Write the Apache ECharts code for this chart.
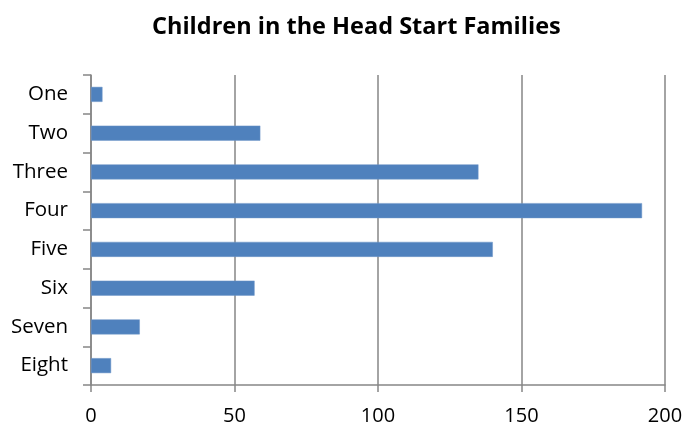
<!DOCTYPE html>
<html>
<head>
<meta charset="utf-8">
<script src="https://cdn.jsdelivr.net/npm/echarts@6/dist/echarts.min.js"></script>
<style>
  html, body { margin: 0; padding: 0; background: #fff; }
  #chart { width: 686px; height: 426px; }
</style>
</head>
<body>
<div id="chart"></div>
<script>
// categories and counts
var categories = ['One', 'Two', 'Three', 'Four', 'Five', 'Six', 'Seven', 'Eight']
var children = [4, 59, 135, 192, 140, 57, 17, 7]
var xTicks = [0, 50, 100, 150, 200]

var axisGray = '#868686'
var fontFam = '"Open Sans", "Liberation Sans", sans-serif'

var myChart = echarts.init(document.getElementById('chart'))

var option = {
  animation: false,
  title: {
    text: 'Children in the Head Start Families',
    left: 147,
    top: 10,
    textStyle: {
      fontFamily: fontFam,
      fontSize: 23.5,
      fontWeight: 'bold',
      color: '#000'
    }
  },
  grid: {
    left: 91,
    right: 21,
    top: 75,
    bottom: 40
  },
  xAxis: {
    type: 'value',
    min: xTicks[0],
    max: xTicks[xTicks.length - 1],
    interval: 50,
    axisLine: { show: true, lineStyle: { color: axisGray, width: 1.5 } },
    axisTick: { show: true, length: 7, lineStyle: { color: axisGray, width: 1.5 } },
    splitLine: { show: true, lineStyle: { color: axisGray, width: 1.5 } },
    axisLabel: {
      margin: 21,
      fontFamily: fontFam,
      fontSize: 20,
      color: '#000'
    }
  },
  yAxis: {
    type: 'category',
    data: categories,
    inverse: true,
    axisLine: { show: true, lineStyle: { color: axisGray, width: 1.5 } },
    axisTick: { show: true, length: 8, lineStyle: { color: axisGray, width: 1.5 } },
    axisLabel: {
      margin: 23,
      fontFamily: fontFam,
      fontSize: 20.5,
      color: '#000'
    }
  },
  series: [{
    type: 'bar',
    data: children,
    barWidth: 15,
    itemStyle: {
      color: '#4F81BD',
      borderColor: '#6F97C9',
      borderWidth: 0.5
    }
  }]
}

myChart.setOption(option)
window.onresize = () => {
  myChart.resize()
}
</script>
</body>
</html>
